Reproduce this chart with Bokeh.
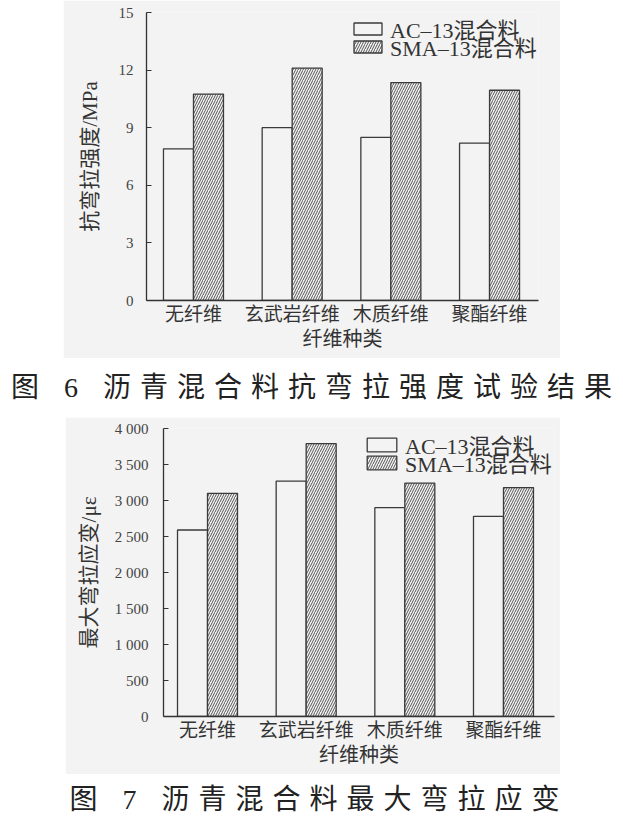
from bokeh.plotting import figure
from bokeh.models import Range1d, FixedTicker, Legend, LegendItem, Div
from bokeh.layouts import column
from bokeh.embed import file_html
from bokeh.resources import INLINE

# ---------------- data ----------------
categories = ["无纤维", "玄武岩纤维", "木质纤维", "聚酯纤维"]
series_names = ["AC–13混合料", "SMA–13混合料"]

strength_ac = [7.9, 9.0, 8.5, 8.2]
strength_sma = [10.75, 12.1, 11.35, 10.95]
strength_ticks = [0, 3, 6, 9, 12, 15]
strength_tick_labels = ["0", "3", "6", "9", "12", "15"]

strain_ac = [2590, 3270, 2900, 2780]
strain_sma = [3100, 3790, 3240, 3180]
strain_ticks = [0, 500, 1000, 1500, 2000, 2500, 3000, 3500, 4000]
strain_tick_labels = ["0", "500", "1 000", "1 500", "2 000", "2 500", "3 000", "3 500", "4 000"]

x_title = "纤维种类"
y1_title = "抗弯拉强度/MPa"
y2_title = "最大弯拉应变/με"
caption1 = "图 6 沥青混合料抗弯拉强度试验结果"
caption2 = "图 7 沥青混合料最大弯拉应变"

# ---------------- style ----------------
PANEL = "#f3f3f3"
INK = "#333333"
SERIF = "'Liberation Serif', 'Noto Sans CJK SC'"
BAR_W = 0.304
OFF = 0.152
LEG_H = 32


def add_legend(p, label, renderer, loc, glyph_w, glyph_h):
    lg = Legend(items=[LegendItem(label=label, renderers=[renderer])], location=loc)
    lg.glyph_width = glyph_w
    lg.glyph_height = glyph_h
    lg.label_height = LEG_H
    lg.spacing = 0
    lg.padding = 0
    lg.margin = 0
    lg.label_standoff = 5
    lg.label_text_font = SERIF
    lg.label_text_font_size = "22px"
    lg.label_text_color = "#333333"
    lg.border_line_color = None
    lg.background_fill_alpha = 0
    p.add_layout(lg, "center")


def make_chart(ac, sma, y_end, ticks, tick_labels, y_title, x_start, x_end,
               width, height, bl, br, bt, bb, tick_standoff, ylab_standoff,
               loc_ac, loc_sma, glyph_w, glyph_h):
    p = figure(width=width, height=height,
               x_range=Range1d(x_start, x_end), y_range=Range1d(0, y_end),
               output_backend="svg", toolbar_location=None)
    if "frame_align" in p.properties():
        p.frame_align = False
    p.min_border_left = bl
    p.min_border_right = br
    p.min_border_top = bt
    p.min_border_bottom = bb
    p.background_fill_color = PANEL
    p.border_fill_color = PANEL
    p.outline_line_color = None
    p.grid.visible = False

    idx = list(range(len(categories)))
    x_ac = [i - OFF for i in idx]
    x_sma = [i + OFF for i in idx]
    r_ac = p.vbar(x=x_ac, top=ac, width=BAR_W, bottom=0,
                  fill_color=PANEL, line_color="#3a3a3a", line_width=1.3)
    r_sma = p.vbar(x=x_sma, top=sma, width=BAR_W, bottom=0,
                   fill_color=PANEL, line_color="#3a3a3a", line_width=1.3,
                   hatch_pattern="/", hatch_color="#555555", hatch_weight=1.0,
                   hatch_scale=5)

    # x axis
    xa = p.xaxis[0]
    xa.ticker = FixedTicker(ticks=idx)
    xa.major_label_overrides = {i: c for i, c in zip(idx, categories)}
    xa.major_tick_line_color = None
    xa.minor_tick_line_color = None
    xa.major_tick_in = 0
    xa.major_tick_out = 0
    xa.axis_line_color = INK
    xa.axis_line_width = 1.3
    xa.major_label_text_font = SERIF
    xa.major_label_text_font_size = "19px"
    xa.major_label_text_color = "#333333"
    xa.major_label_standoff = 3
    xa.axis_label = x_title
    xa.axis_label_text_font = SERIF
    xa.axis_label_text_font_size = "20px"
    xa.axis_label_text_font_style = "normal"
    xa.axis_label_text_color = "#333333"
    xa.axis_label_standoff = 0

    # y axis
    ya = p.yaxis[0]
    ya.ticker = FixedTicker(ticks=ticks)
    ya.major_label_overrides = {t: l for t, l in zip(ticks, tick_labels)}
    ya.major_tick_in = 5
    ya.major_tick_out = 0
    ya.major_tick_line_color = INK
    ya.major_tick_line_width = 1.2
    ya.minor_tick_line_color = None
    ya.axis_line_color = INK
    ya.axis_line_width = 1.3
    ya.major_label_text_font = SERIF
    ya.major_label_text_font_size = "15px"
    ya.major_label_text_color = "#444444"
    ya.major_label_standoff = tick_standoff
    ya.axis_label = y_title
    ya.axis_label_text_font = SERIF
    ya.axis_label_text_font_size = "21px"
    ya.axis_label_text_font_style = "normal"
    ya.axis_label_text_color = "#333333"
    ya.axis_label_standoff = ylab_standoff

    add_legend(p, series_names[1], r_sma, loc_sma, glyph_w, glyph_h)
    add_legend(p, series_names[0], r_ac, loc_ac, glyph_w, glyph_h)
    return p


# chart 1: panel x 63..560, y 0..358 ; frame x 146..538, y 12..300
p1 = make_chart(strength_ac, strength_sma, 15, strength_ticks, strength_tick_labels,
                y1_title, -0.476, 3.496, 497, 358, 83, 22, 12, 58, 13, 14,
                (204, 256), (204, 238), 35, 15)
p1.margin = (0, 0, 0, 63)

d1 = Div(text=caption1, width=623, height=59, margin=0,
         styles={"font-family": SERIF, "font-size": "28px", "letter-spacing": "9px",
                 "text-indent": "9px",
                 "color": "#222222", "text-align": "center", "line-height": "59px",
                 "white-space": "nowrap", "overflow": "visible"})

# chart 2: panel x 65..560, y 417..774 ; frame x 163..554, y 428..716
p2 = make_chart(strain_ac, strain_sma, 4000, strain_ticks, strain_tick_labels,
                y2_title, -0.446, 3.517, 495, 357, 98, 6, 11, 58, 15, 11,
                (200, 256), (200, 238), 37, 17)
p2.margin = (0, 0, 0, 65)

d2 = Div(text=caption2, width=623, height=59, margin=0,
         styles={"font-family": SERIF, "font-size": "28px", "letter-spacing": "9px",
                 "text-indent": "15px",
                 "color": "#222222", "text-align": "center", "line-height": "52px",
                 "white-space": "nowrap", "overflow": "visible"})

layout = column(p1, d1, p2, d2, spacing=0)

open("out.html", "w").write(file_html(layout, INLINE))
